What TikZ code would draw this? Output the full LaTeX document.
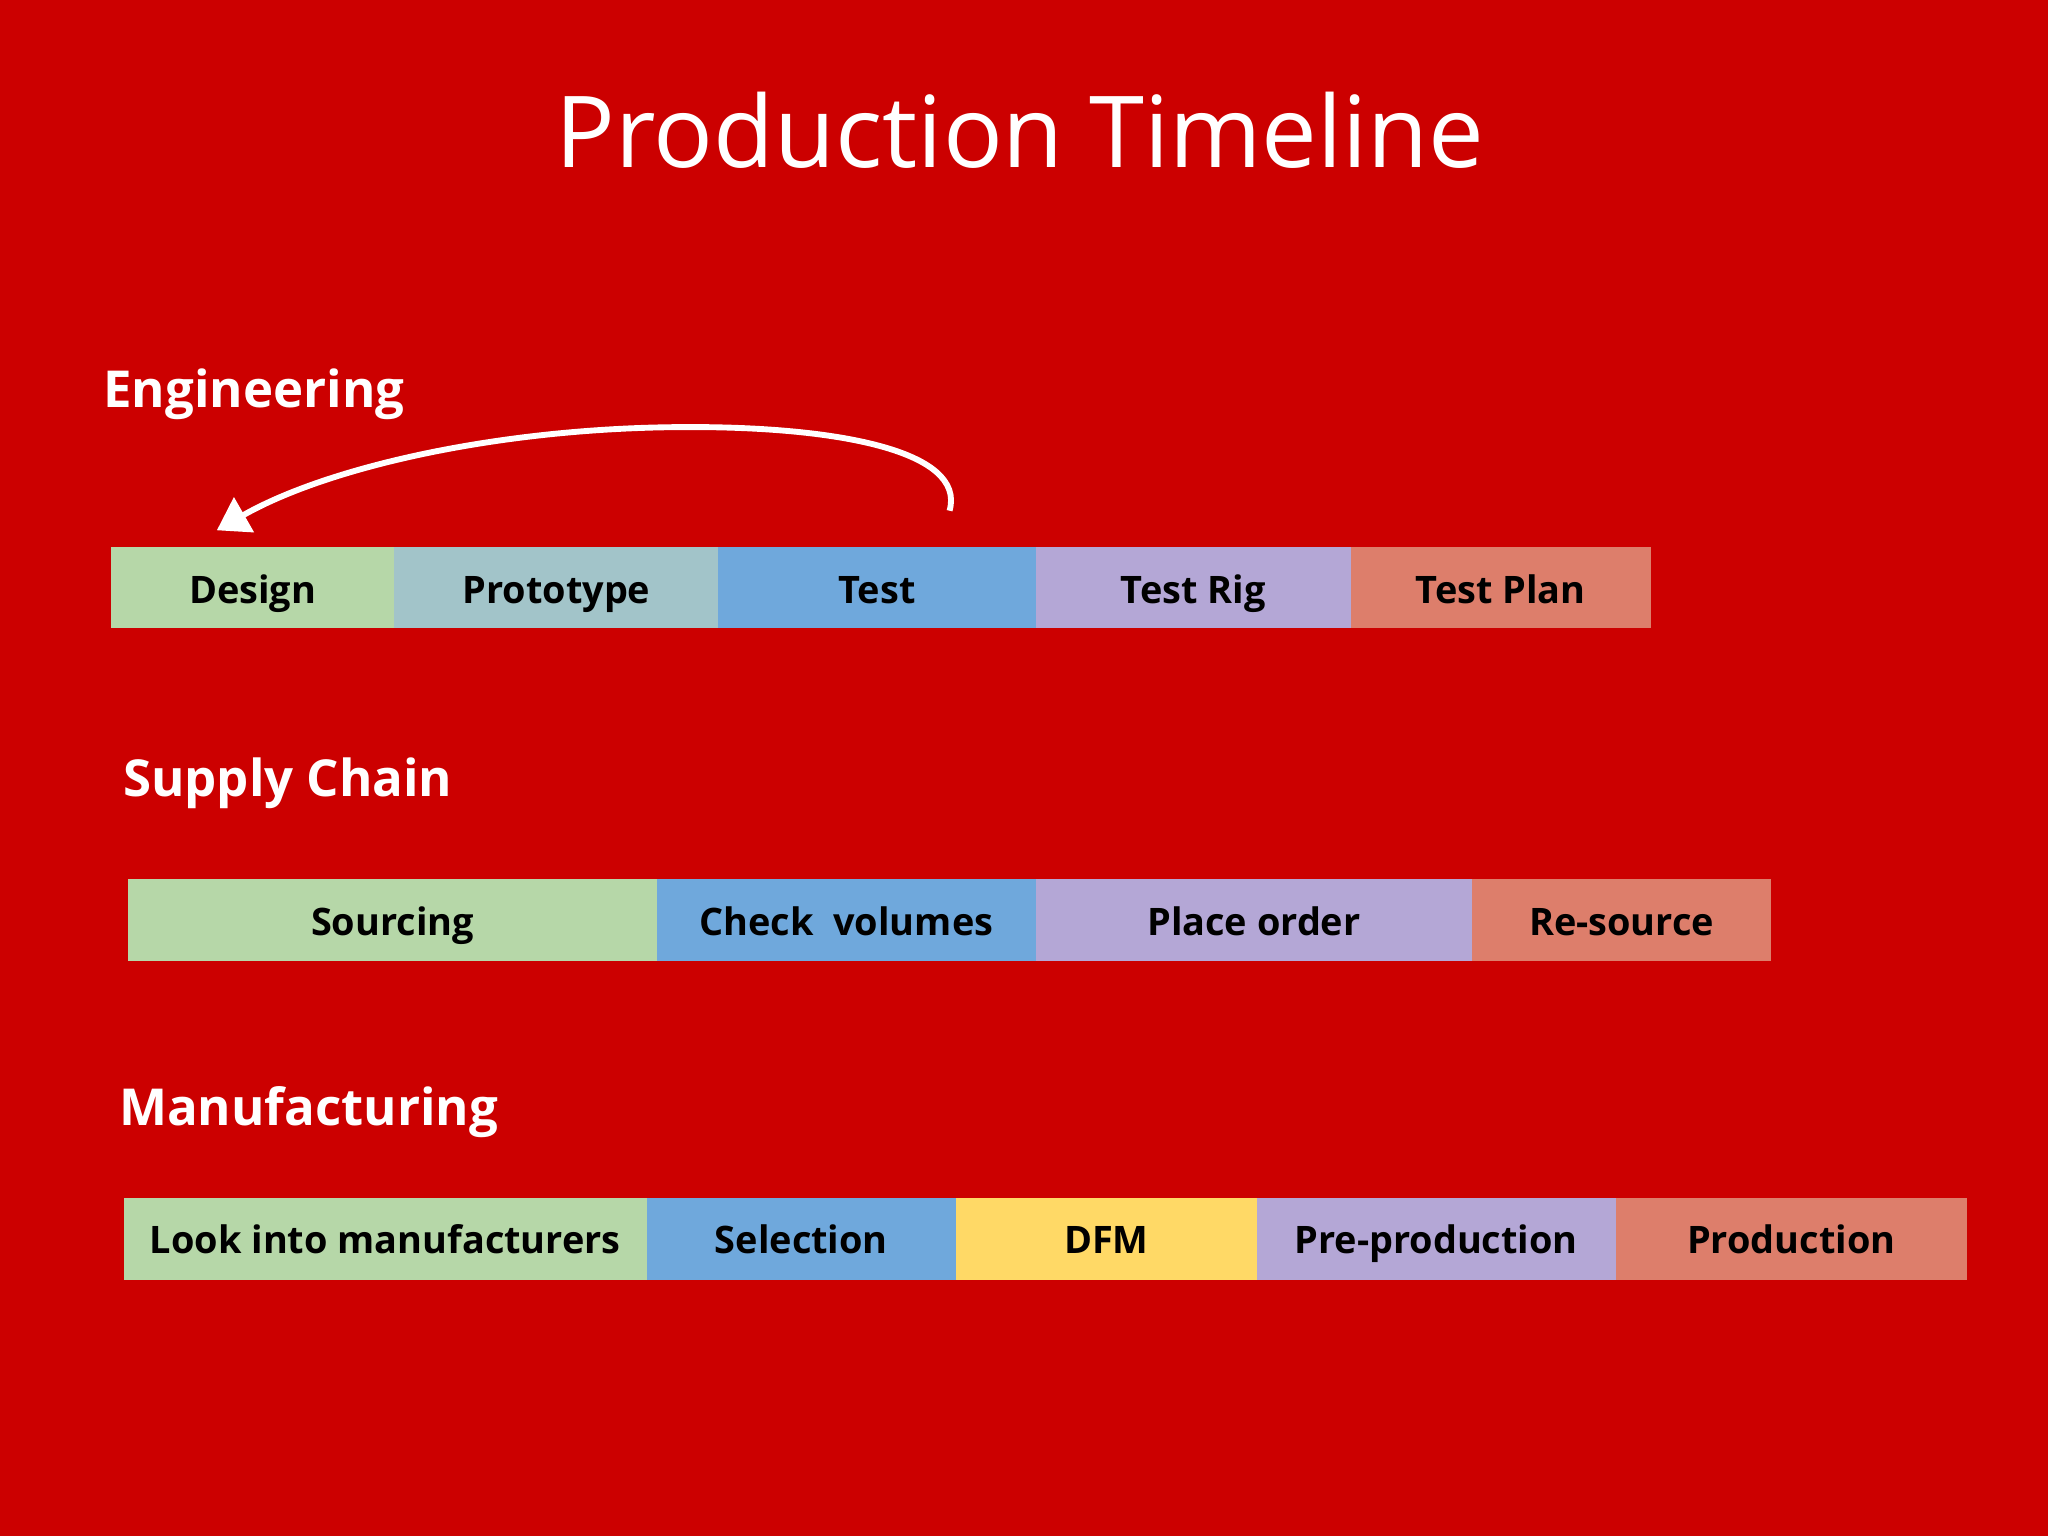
\documentclass[tikz,border=0pt]{standalone}
\usepackage{fontspec}
\setmainfont{Open Sans}
\usetikzlibrary{arrows.meta}
\definecolor{bg}{HTML}{CC0000}
\definecolor{cgreen}{HTML}{B6D7A8}
\definecolor{cteal}{HTML}{A2C4C9}
\definecolor{cblue}{HTML}{6FA8DC}
\definecolor{cpurple}{HTML}{B4A7D6}
\definecolor{csalmon}{HTML}{DD7E6B}
\definecolor{cyellow}{HTML}{FFD966}
\tikzset{
  lab/.style={font=\bfseries\fontsize{29}{34}\selectfont, text=black, anchor=base, inner sep=0pt},
  head/.style={font=\bfseries\fontsize{39}{46}\selectfont, text=white, anchor=base west, inner sep=0pt},
}
\begin{document}
\begin{tikzpicture}[x=1pt,y=-1pt]
\fill[bg] (0,0) rectangle (1568,1176);
\useasboundingbox (0,0) rectangle (1568,1176);
\node[text=white, font=\fontsize{76}{86}\selectfont, anchor=base, inner sep=0pt] (title) at (781,128) {Production Timeline};
\node[head] (eng) at (79,312) {Engineering};
\node[head] (sup) at (94,610) {Supply Chain};
\node[head] (man) at (91,862) {Manufacturing};
% Engineering
\foreach \a/\b/\c/\t/\n in {85/302/cgreen/Design/d,302/550/cteal/Prototype/p,550/793/cblue/Test/t,793/1034/cpurple/Test Rig/tr,1034/1264/csalmon/Test Plan/tp}{
  \fill[\c] (\a,419) rectangle (\b,481);
  \node[lab] (\n) at ({(\a+\b)/2},462) {\t};
}
% Supply
\foreach \a/\b/\c/\t/\n in {98/503/cgreen/Sourcing/s1,503/793/cblue/Check\ \ volumes/s2,793/1127/cpurple/Place order/s3,1127/1356/csalmon/Re-source/s4}{
  \fill[\c] (\a,673) rectangle (\b,736);
  \node[lab] (\n) at ({(\a+\b)/2},716) {\t};
}
% Manufacturing
\foreach \a/\b/\c/\t/\n in {95/495/cgreen/Look into manufacturers/m1,495/732/cblue/Selection/m2,732/962/cyellow/DFM/m3,962/1237/cpurple/Pre-production/m4,1237/1506/csalmon/Production/m5}{
  \fill[\c] (\a,917) rectangle (\b,980);
  \node[lab] (\n) at ({(\a+\b)/2},960) {\t};
}
\coordinate (from) at (727,391);
\coordinate (top) at (520,327);
\coordinate (to) at (166,406);
\draw[white, line width=4.5pt, -{Triangle[length=24pt,width=30pt]}]
  (from) .. controls (740,345) and (640,326) .. (top)
  .. controls (380,328) and (250,358) .. (to);
\end{tikzpicture}
\end{document}
